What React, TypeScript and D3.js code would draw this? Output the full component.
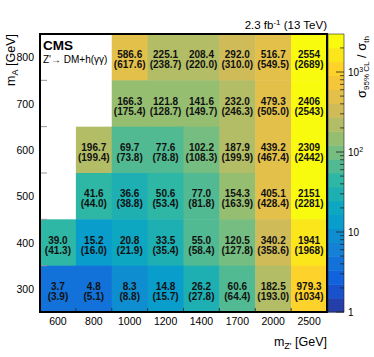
import React from "react";
import * as d3 from "d3";

const mZ = ["600", "800", "1000", "1200", "1400", "1700", "2000", "2500"];
const mA = ["300", "400", "500", "600", "700", "800"];

// [mZ, mA, observed, expected]
const cells: [string, string, string, string][] = [
  ["1000", "800", "586.6", "617.6"], ["1200", "800", "225.1", "238.7"], ["1400", "800", "208.4", "220.0"],
  ["1700", "800", "292.0", "310.0"], ["2000", "800", "516.7", "549.5"], ["2500", "800", "2554", "2689"],
  ["1000", "700", "166.3", "175.4"], ["1200", "700", "121.8", "128.7"], ["1400", "700", "141.6", "149.7"],
  ["1700", "700", "232.0", "246.3"], ["2000", "700", "479.3", "505.0"], ["2500", "700", "2406", "2543"],
  ["800", "600", "196.7", "199.4"], ["1000", "600", "69.7", "73.8"], ["1200", "600", "77.6", "78.8"],
  ["1400", "600", "102.2", "108.3"], ["1700", "600", "187.9", "199.9"], ["2000", "600", "439.2", "467.4"],
  ["2500", "600", "2309", "2442"],
  ["800", "500", "41.6", "44.0"], ["1000", "500", "36.6", "38.8"], ["1200", "500", "50.6", "53.4"],
  ["1400", "500", "77.0", "81.8"], ["1700", "500", "154.3", "163.9"], ["2000", "500", "405.1", "428.4"],
  ["2500", "500", "2151", "2281"],
  ["600", "400", "39.0", "41.3"], ["800", "400", "15.2", "16.0"], ["1000", "400", "20.8", "21.9"],
  ["1200", "400", "33.5", "35.4"], ["1400", "400", "55.0", "58.4"], ["1700", "400", "120.5", "127.8"],
  ["2000", "400", "340.2", "358.6"], ["2500", "400", "1941", "1968"],
  ["600", "300", "3.7", "3.9"], ["800", "300", "4.8", "5.1"], ["1000", "300", "8.3", "8.8"],
  ["1200", "300", "14.8", "15.7"], ["1400", "300", "26.2", "27.8"], ["1700", "300", "60.6", "64.4"],
  ["2000", "300", "182.5", "193.0"], ["2500", "300", "979.3", "1034"],
];

const zMin = 1;
const zMax = Math.pow(10, 3.475);
const nLevels = 20;

const birdStops = [0, 0.125, 0.25, 0.375, 0.5, 0.625, 0.75, 0.875, 1];
const birdR = [0.2082, 0.0592, 0.078, 0.0232, 0.1802, 0.5301, 0.8186, 0.9956, 0.9764];
const birdG = [0.1664, 0.3599, 0.5041, 0.6419, 0.7178, 0.7492, 0.7328, 0.7862, 0.9832];
const birdB = [0.5293, 0.8684, 0.8385, 0.7914, 0.6425, 0.4662, 0.3499, 0.1968, 0.0539];

const rs = d3.scaleLinear().domain(birdStops).range(birdR).clamp(true);
const gs = d3.scaleLinear().domain(birdStops).range(birdG).clamp(true);
const bs = d3.scaleLinear().domain(birdStops).range(birdB).clamp(true);
const bird = (t: number) =>
  d3.rgb(rs(t) * 255, gs(t) * 255, bs(t) * 255).formatHex();
const levelColor = (lvl: number) => bird(Math.min(1, (lvl + 0.99) / nLevels));

export default function App() {
  const L = 40, R = 327, T = 34, B = 312;
  const x = d3.scaleBand().domain(mZ).range([L, R]);
  const y = d3.scaleBand().domain(mA).range([B, T]);
  const zs = d3.scaleLog().domain([zMin, zMax]).range([0, 1]);
  const cbX = 328, cbW = 16;
  const cbY = d3.scaleLog().domain([zMin, zMax]).range([B, T]);
  const levelOf = (v: number) => Math.max(0, Math.min(nLevels - 1, Math.floor(zs(v) * nLevels)));

  const minorTicks: number[] = [];
  for (let e = 0; e < 4; e++) for (let k = 2; k <= 9; k++) {
    const v = k * Math.pow(10, e);
    if (v <= zMax) minorTicks.push(v);
  }
  const majors = [1, 10, 100, 1000];
  const font = "'Liberation Sans', Arial, sans-serif";

  return (
    <svg width={374} height={357} style={{ position: "absolute", left: 0, top: 0 }} fontFamily={font}>
      <rect width={374} height={357} fill="white" />
      {cells.map(([cx, cy, obs], i) => {
        const x0 = x(cx)!, y0 = y(cy)!;
        const c = levelColor(levelOf(+obs));
        return (
          <rect key={i} x={x0} y={y0} width={x.bandwidth() + 0.5} height={y.bandwidth() + 0.5} fill={c} />
        );
      })}
      {cells.map(([cx, cy, obs, exp], i) => {
        const xc = x(cx)! + x.bandwidth() / 2, yc = y(cy)! + y.bandwidth() / 2;
        return (
          <g key={"t" + i} fontSize={10} fontWeight="bold" textAnchor="middle" fill="#111">
            <text x={xc} y={yc + 1}>{obs}</text>
            <text x={xc} y={yc + 11}>({exp})</text>
          </g>
        );
      })}
      {/* ticks */}
      {mZ.slice(1).map((m) => (
        <line key={"xt" + m} x1={x(m)} x2={x(m)} y1={B} y2={B - 4} stroke="#333" strokeWidth={1} />
      ))}
      {mA.slice(1).map((m) => (
        <line key={"yt" + m} x1={L} x2={L + 7} y1={y(m)! + y.bandwidth()} y2={y(m)! + y.bandwidth()} stroke="#999" strokeWidth={1} />
      ))}
      <rect x={L} y={T} width={R - L} height={B - T} fill="none" stroke="black" strokeWidth={2} />
      {/* axis labels */}
      {mZ.map((m) => (
        <text key={"xl" + m} x={x(m)! + x.bandwidth() / 2} y={325} fontSize={10.5} textAnchor="middle">{m}</text>
      ))}
      {mA.map((m) => (
        <text key={"yl" + m} x={34} y={y(m)! + y.bandwidth() / 2 + 4} fontSize={10.5} textAnchor="end">{m}</text>
      ))}
      <text x={R} y={346} fontSize={12.5} textAnchor="end">
        m<tspan fontSize={9} dy={3}>Z'</tspan><tspan dy={-3}> [GeV]</tspan>
      </text>
      <text transform={`translate(15,${T}) rotate(-90)`} fontSize={12.5} textAnchor="end">
        m<tspan fontSize={9} dy={3}>A</tspan><tspan dy={-3}> [GeV]</tspan>
      </text>
      <text x={R} y={29} fontSize={11.5} textAnchor="end">
        2.3 fb<tspan fontSize={8} dy={-4}>-1</tspan><tspan dy={4}> (13 TeV)</tspan>
      </text>
      <text x={43} y={50} fontSize={13.5} fontWeight="bold">CMS</text>
      <text x={43} y={62.5} fontSize={10}>Z'→ DM+h(γγ)</text>
      {/* colorbar */}
      {d3.range(nLevels).map((i) => {
        const yTop = B - ((i + 1) / nLevels) * (B - T);
        const yBot = B - (i / nLevels) * (B - T);
        return <rect key={"cb" + i} x={cbX} y={yTop} width={cbW} height={yBot - yTop + 0.5} fill={levelColor(i)} />;
      })}
      <rect x={cbX} y={T} width={cbW} height={B - T} fill="none" stroke="#222" strokeWidth={0.6} />
      {minorTicks.map((v) => (
        <line key={"mt" + v} x1={cbX + cbW - 4} x2={cbX + cbW} y1={cbY(v)} y2={cbY(v)} stroke="#222" strokeWidth={0.8} />
      ))}
      {majors.map((v) => (
        <line key={"Mt" + v} x1={cbX + cbW - 8} x2={cbX + cbW} y1={cbY(v)} y2={cbY(v)} stroke="#222" strokeWidth={0.8} />
      ))}
      {majors.map((v, i) => (
        <text key={"Ml" + v} x={cbX + cbW + 4} y={cbY(v) + 4} fontSize={10}>
          {i === 0 ? "1" : i === 1 ? "10" : (<>10<tspan fontSize={7} dy={-4}>{i}</tspan></>)}
        </text>
      ))}
      <text transform={`translate(366,${T + 2}) rotate(-90)`} fontSize={13} textAnchor="end">
        σ<tspan fontSize={8} dy={3}>95% CL</tspan><tspan dy={-3}> / σ</tspan><tspan fontSize={8} dy={3}>th</tspan>
      </text>
    </svg>
  );
}
